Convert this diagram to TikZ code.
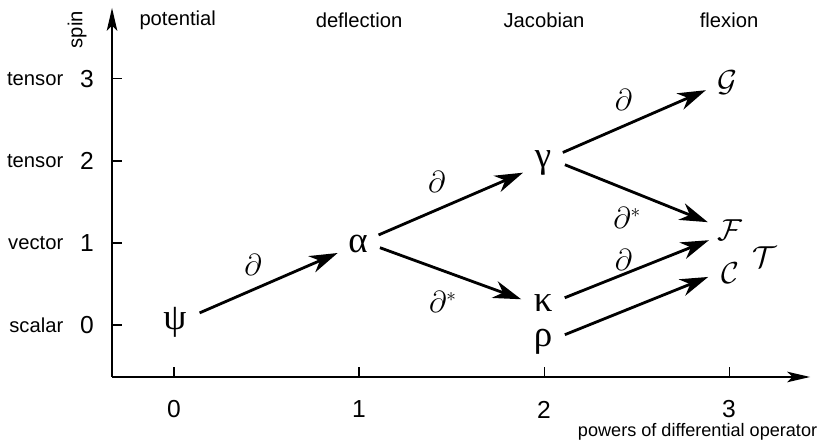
\documentclass[tikz,border=0pt]{standalone}
\usepackage{fontspec}
\setmainfont{Liberation Sans}
\newfontfamily\greekfont{Liberation Serif}
\usetikzlibrary{arrows.meta}
\tikzset{
  field/.style={circle, inner sep=0pt, minimum size=0.6cm, font=\greekfont\fontsize{21}{21}\selectfont},
  flexfield/.style={circle, inner sep=0pt, minimum size=0.6cm, font=\fontsize{16}{16}\selectfont},
  op/.style={font=\fontsize{16}{16}\selectfont},
  maparrow/.style={line width=1.6pt, shorten <=0.14cm, shorten >=0.14cm,
    -{Stealth[length=16pt, width=10pt, inset=5pt]}},
  axisarrow/.style={line width=0.8pt, -{Stealth[length=13pt, width=6pt, inset=3pt]}},
  axislabel/.style={font=\fontsize{11.5}{12}\selectfont},
  ticklabel/.style={inner sep=0pt, font=\fontsize{14}{14}\selectfont}
}

\begin{document}
\begin{tikzpicture}[x=3.7cm, y=1.64cm]
    \useasboundingbox (-0.9405,-1.439) rectangle (3.497,3.963);
    % axes
    \draw[axisarrow] (-0.335,-0.634) -- (3.438,-0.634);
    \draw[axisarrow] (-0.335,-0.634) -- (-0.335,3.866);
    \foreach \k in {0,1,2,3} {
      \draw[line width=0.6pt] (\k,-0.634) -- (\k,-0.512);
      \node[ticklabel] (xt\k) at (\k,-1.03) {\k};
      \draw[line width=0.6pt] (-0.335,\k) -- (-0.281,\k);
      \node[ticklabel] (yt\k) at (-0.47,\k) {\k};
    }
    \node[axislabel, anchor=east] (r3) at (-0.565,3) {tensor};
    \node[axislabel, anchor=east] (r2) at (-0.565,2) {tensor};
    \node[axislabel, anchor=east] (r1) at (-0.565,1) {vector};
    \node[axislabel, anchor=east] (r0) at (-0.565,0) {scalar};
    \node[axislabel, rotate=90] (spin) at (-0.524,3.60) {spin};
    \node[font=\fontsize{10.3}{10.3}\selectfont, anchor=east, inner sep=0pt] (powers) at (3.478,-1.30) {powers of differential operator};
    \node[axislabel] (c0) at (0.02,3.72) {potential};
    \node[axislabel] (c1) at (1,3.72) {deflection};
    \node[axislabel] (c2) at (2,3.72) {Jacobian};
    \node[axislabel] (c3) at (3,3.72) {flexion};
    % fields
    \node[field] (psi) at (0.005,0.037) {ψ};
    \node[field] (alpha) at (0.995,0.988) {α};
    \node[field] (gamma) at (1.995,1.976) {γ};
    \node[field] (kappa) at (1.995,0.268) {κ};
    \node[field] (rho) at (1.995,-0.207) {ρ};
    \node[flexfield] (calG) at (2.99,2.96) {$\mathcal{G}$};
    \node[flexfield] (calF) at (3.005,1.16) {$\mathcal{F}$};
    \node[flexfield] (calT) at (3.19,0.83) {$\mathcal{T}$};
    \node[flexfield] (calC) at (3.005,0.634) {$\mathcal{C}$};
    % operators
    \draw[maparrow] (psi.19) -- (alpha.204);
    \draw[maparrow] (alpha.24) -- (gamma.207);
    \draw[maparrow] (alpha.-5) -- (kappa.175);
    \draw[maparrow] (gamma.30) -- (calG.199);
    \draw[maparrow] (gamma.3) -- (calF.162);
    \draw[maparrow] (kappa.10) -- (calF.208);
    \draw[maparrow] (rho.17) -- (calC.185);
    \node[op] (d1) at (0.427,0.73) {$\partial$};
    \node[op] (d2) at (1.42,1.74) {$\partial$};
    \node[op] (d3) at (1.454,0.28) {$\partial^*$};
    \node[op] (d4) at (2.43,2.74) {$\partial$};
    \node[op] (d5) at (2.45,1.30) {$\partial^*$};
    \node[op] (d6) at (2.43,0.79) {$\partial$};
\end{tikzpicture}
\end{document}
